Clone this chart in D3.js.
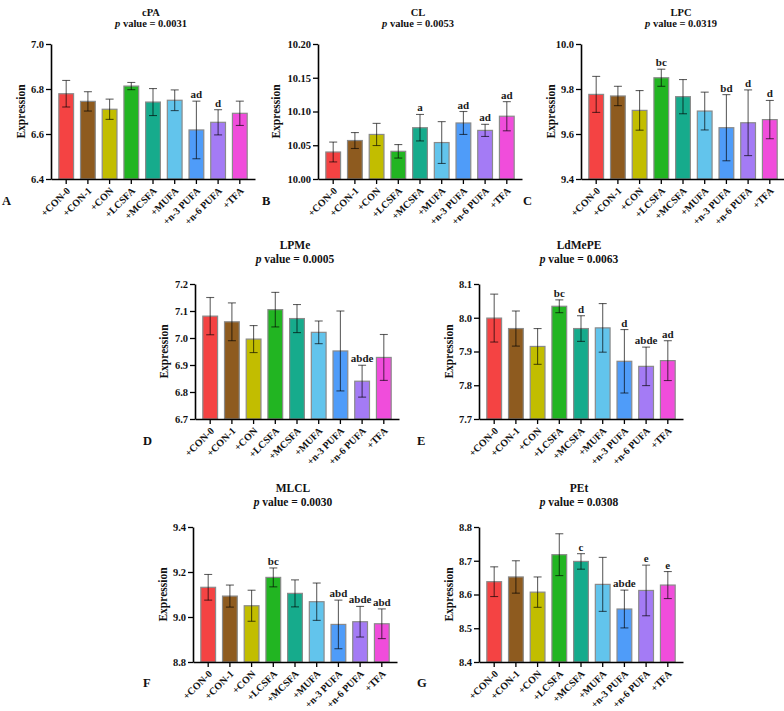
<!DOCTYPE html>
<html>
<head>
<meta charset="utf-8">
<script src="https://cdn.jsdelivr.net/npm/d3@7"></script>
<style>
  body { margin: 0; background: #fff; }
  svg { display: block; }
</style>
</head>
<body>
<script>
var CANVAS_WIDTH = 784;
var CANVAS_HEIGHT = 711;
var FONT = "'Times New Roman', 'Liberation Serif', serif";

var groups = ["+CON-0", "+CON-1", "+CON", "+LCSFA", "+MCSFA", "+MUFA", "+n-3 PUFA", "+n-6 PUFA", "+TFA"];
var groupColors = ["#f44343", "#8e5b1f", "#c2bd00", "#22b522", "#16ab8c", "#62c4ec", "#4f9cf9", "#a47bf5", "#f04ddb"];

// cPA
var cpaMean = [6.779, 6.745, 6.710, 6.813, 6.742, 6.750, 6.618, 6.652, 6.692];
var cpaErr  = [0.059, 0.043, 0.045, 0.016, 0.060, 0.046, 0.128, 0.056, 0.054];
var cpaSig  = ["", "", "", "", "", "", "ad", "d", ""];
var cpaTicks = [6.4, 6.6, 6.8, 7.0];

// CL
var clMean = [10.040, 10.057, 10.066, 10.041, 10.076, 10.054, 10.083, 10.072, 10.093];
var clErr  = [0.0147, 0.0118, 0.0164, 0.010, 0.0196, 0.031, 0.017, 0.009, 0.0216];
var clSig  = ["", "", "", "", "a", "", "ad", "ad", "ad"];
var clTicks = [10.00, 10.05, 10.10, 10.15, 10.20];

// LPC
var lpcMean = [9.776, 9.769, 9.705, 9.850, 9.766, 9.702, 9.628, 9.650, 9.664];
var lpcErr  = [0.080, 0.043, 0.088, 0.038, 0.076, 0.084, 0.147, 0.146, 0.085];
var lpcSig  = ["", "", "", "bc", "", "", "bd", "d", "d"];
var lpcTicks = [9.4, 9.6, 9.8, 10.0];

// LPMe
var lpmeMean = [7.081, 7.060, 6.996, 7.105, 7.072, 7.021, 6.952, 6.840, 6.928];
var lpmeErr  = [0.069, 0.070, 0.050, 0.064, 0.052, 0.042, 0.148, 0.059, 0.085];
var lpmeSig  = ["", "", "", "", "", "", "", "abde", ""];
var lpmeTicks = [6.7, 6.8, 6.9, 7.0, 7.1, 7.2];

// LdMePE
var ldmepeMean = [7.999, 7.968, 7.915, 8.034, 7.968, 7.970, 7.871, 7.856, 7.873];
var ldmepeErr  = [0.071, 0.052, 0.053, 0.019, 0.038, 0.072, 0.094, 0.057, 0.059];
var ldmepeSig  = ["", "", "", "bc", "d", "", "d", "abde", "ad"];
var ldmepeTicks = [7.7, 7.8, 7.9, 8.0, 8.1];

// MLCL
var mlclMean = [9.132, 9.093, 9.050, 9.176, 9.105, 9.068, 8.967, 8.979, 8.970];
var mlclErr  = [0.057, 0.049, 0.069, 0.042, 0.060, 0.083, 0.108, 0.068, 0.066];
var mlclSig  = ["", "", "", "bc", "", "", "abd", "abde", "abd"];
var mlclTicks = [8.8, 9.0, 9.2, 9.4];

// PEt
var petMean = [8.638, 8.652, 8.607, 8.718, 8.698, 8.630, 8.557, 8.612, 8.628];
var petErr  = [0.044, 0.048, 0.045, 0.062, 0.023, 0.080, 0.056, 0.075, 0.040];
var petSig  = ["", "", "", "", "c", "", "abde", "e", "e"];
var petTicks = [8.4, 8.5, 8.6, 8.7, 8.8];

var canvas = d3.select("body")
                .append("svg")
                .attr("width", CANVAS_WIDTH)
                .attr("height", CANVAS_HEIGHT);

/* x0/top = position of the y axis line and the top of the plot area */
var panels = [
    {name: "cPA",    p: "0.0031", letter: "A", mean: cpaMean,    err: cpaErr,    sig: cpaSig,    ticks: cpaTicks,    fmt: ".1f", x0: 51,  top: 44,  titleDy: [-28.5, -17], letterX: 2,   letterY: 205, labelDx: -30},
    {name: "CL",     p: "0.0053", letter: "B", mean: clMean,     err: clErr,     sig: clSig,     ticks: clTicks,     fmt: ".2f", x0: 318, top: 44,  titleDy: [-28.5, -17], letterX: 262, letterY: 205, labelDx: -42},
    {name: "LPC",    p: "0.0319", letter: "C", mean: lpcMean,    err: lpcErr,    sig: lpcSig,    ticks: lpcTicks,    fmt: ".1f", x0: 581, top: 44,  titleDy: [-28.5, -17], letterX: 523, letterY: 205, labelDx: -30},
    {name: "LPMe",   p: "0.0005", letter: "D", mean: lpmeMean,   err: lpmeErr,   sig: lpmeSig,   ticks: lpmeTicks,   fmt: ".1f", x0: 195, top: 284, titleDy: [-35.5, -21], letterX: 143, letterY: 445, labelDx: -31},
    {name: "LdMePE", p: "0.0063", letter: "E", mean: ldmepeMean, err: ldmepeErr, sig: ldmepeSig, ticks: ldmepeTicks, fmt: ".1f", x0: 479, top: 284, titleDy: [-35.5, -21], letterX: 417, letterY: 445, labelDx: -30},
    {name: "MLCL",   p: "0.0030", letter: "F", mean: mlclMean,   err: mlclErr,   sig: mlclSig,   ticks: mlclTicks,   fmt: ".1f", x0: 193, top: 527, titleDy: [-35.5, -21], letterX: 143, letterY: 687, labelDx: -30},
    {name: "PEt",    p: "0.0308", letter: "G", mean: petMean,    err: petErr,    sig: petSig,    ticks: petTicks,    fmt: ".1f", x0: 479, top: 527, titleDy: [-35.5, -21], letterX: 417, letterY: 687, labelDx: -30}
];

var PLOT_HEIGHT = 135;
var AXIS_LENGTH = 204;

function drawPanel(canvas, panel) {
    var g = canvas.append("g").attr("id", "panel_" + panel.letter);
    var bottom = panel.top + PLOT_HEIGHT;
    var ticks = panel.ticks;

    var x = d3.scaleBand()
        .domain(groups)
        .range([panel.x0, panel.x0 + AXIS_LENGTH])
        .paddingInner(0.32)
        .paddingOuter(0.36);

    var y = d3.scaleLinear()
        .domain([ticks[0], ticks[ticks.length - 1]])
        .range([bottom, panel.top]);

    var rows = groups.map(function(name, i) {
        return {name: name, mean: panel.mean[i], err: panel.err[i], sig: panel.sig[i], color: groupColors[i]};
    });

    // bars
    g.selectAll("rect.bar")
        .data(rows)
        .enter().append("rect")
        .attr("class", "bar")
        .attr("x", d => x(d.name))
        .attr("y", d => y(d.mean))
        .attr("width", x.bandwidth())
        .attr("height", d => bottom - y(d.mean))
        .attr("fill", d => d.color)
        .attr("stroke", "#8a8a8a")
        .attr("stroke-width", "1.2px");

    // error bars
    var eb = g.selectAll("g.err")
        .data(rows)
        .enter().append("g")
        .attr("class", "err")
        .attr("stroke", "#000")
        .attr("stroke-opacity", 0.62)
        .attr("stroke-width", "1.1px");
    eb.append("line")
        .attr("x1", d => x(d.name) + x.bandwidth() / 2)
        .attr("x2", d => x(d.name) + x.bandwidth() / 2)
        .attr("y1", d => y(d.mean - d.err))
        .attr("y2", d => y(d.mean + d.err));
    [-1, 1].forEach(function(s) {
        eb.append("line")
            .attr("x1", d => x(d.name) + x.bandwidth() / 2 - 4)
            .attr("x2", d => x(d.name) + x.bandwidth() / 2 + 4)
            .attr("y1", d => y(d.mean + s * d.err))
            .attr("y2", d => y(d.mean + s * d.err));
    });

    // significance letters
    g.selectAll("text.sig")
        .data(rows.filter(d => d.sig))
        .enter().append("text")
        .attr("class", "sig")
        .attr("x", d => x(d.name) + x.bandwidth() / 2)
        .attr("y", d => y(d.mean + d.err) - 3)
        .attr("text-anchor", "middle")
        .attr("font-family", FONT)
        .attr("font-size", "11px")
        .attr("font-weight", "bold")
        .attr("fill", "#1a1a1a")
        .text(d => d.sig);

    // axes
    var yAxis = g.append("g")
        .attr("transform", "translate(" + panel.x0 + ",0)")
        .call(d3.axisLeft(y).tickValues(ticks).tickSize(5).tickSizeOuter(0).tickPadding(2).tickFormat(d3.format(panel.fmt)));
    var xAxis = g.append("g")
        .attr("transform", "translate(0," + bottom + ")")
        .call(d3.axisBottom(x).tickSize(5).tickSizeOuter(0));

    [yAxis, xAxis].forEach(function(a) {
        a.select(".domain").attr("stroke", "#000").attr("stroke-width", "1.6px");
        a.selectAll(".tick line").attr("stroke", "#000").attr("stroke-width", "1.3px");
        a.selectAll("text")
            .attr("font-family", FONT)
            .attr("font-weight", "bold")
            .attr("fill", "#111");
    });
    yAxis.selectAll("text").attr("font-size", "10.5px");
    xAxis.selectAll("text")
        .attr("font-size", "10px")
        .attr("x", 0)
        .attr("y", 0)
        .attr("dy", "0.35em")
        .attr("transform", "translate(2,10) rotate(-45)")
        .style("text-anchor", "end");

    // y label
    g.append("text")
        .attr("transform", "translate(" + (panel.x0 + panel.labelDx) + "," + (panel.top + PLOT_HEIGHT / 2) + ") rotate(-90)")
        .attr("text-anchor", "middle")
        .attr("dy", ".35em")
        .attr("font-family", FONT)
        .attr("font-size", "11.5px")
        .attr("font-weight", "bold")
        .attr("fill", "#111")
        .text("Expression");

    // title
    var cx = panel.x0 + 100;
    var fs = panel.top < 100 ? "10.5px" : "11.5px";
    g.append("text")
        .attr("x", cx)
        .attr("y", panel.top + panel.titleDy[0])
        .attr("text-anchor", "middle")
        .attr("font-family", FONT)
        .attr("font-size", fs)
        .attr("font-weight", "bold")
        .attr("fill", "#111")
        .text(panel.name);
    var pt = g.append("text")
        .attr("x", cx)
        .attr("y", panel.top + panel.titleDy[1])
        .attr("text-anchor", "middle")
        .attr("font-family", FONT)
        .attr("font-size", fs)
        .attr("font-weight", "bold")
        .attr("fill", "#111");
    pt.append("tspan").attr("font-style", "italic").text("p");
    pt.append("tspan").text(" value = " + panel.p);

    // panel letter
    g.append("text")
        .attr("x", panel.letterX)
        .attr("y", panel.letterY)
        .attr("font-family", FONT)
        .attr("font-size", "12.5px")
        .attr("font-weight", "bold")
        .attr("fill", "#111")
        .text(panel.letter);
}

panels.forEach(p => drawPanel(canvas, p));
</script>
</body>
</html>
